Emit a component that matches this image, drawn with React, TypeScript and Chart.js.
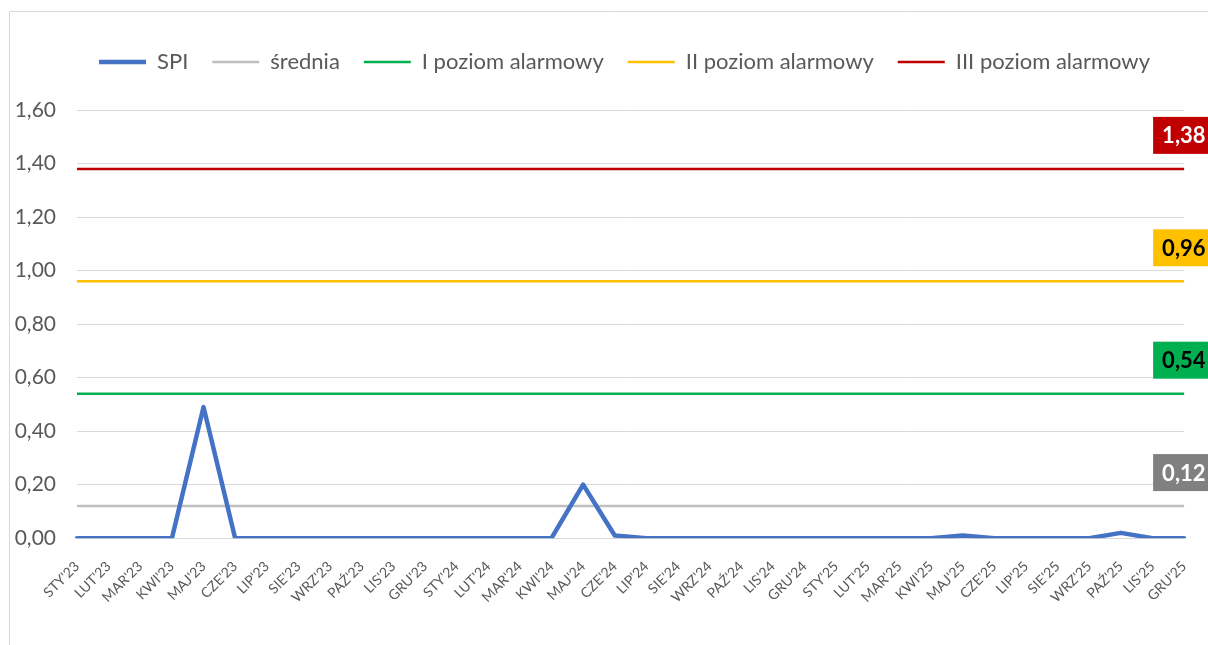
import { useEffect, useRef } from "react";
import { Chart, registerables } from "chart.js";

Chart.register(...registerables);

const categories = [
  "STY'23", "LUT'23", "MAR'23", "KWI'23", "MAJ'23", "CZE'23", "LIP'23", "SIE'23", "WRZ'23", "PAŹ'23", "LIS'23", "GRU'23",
  "STY'24", "LUT'24", "MAR'24", "KWI'24", "MAJ'24", "CZE'24", "LIP'24", "SIE'24", "WRZ'24", "PAŹ'24", "LIS'24", "GRU'24",
  "STY'25", "LUT'25", "MAR'25", "KWI'25", "MAJ'25", "CZE'25", "LIP'25", "SIE'25", "WRZ'25", "PAŹ'25", "LIS'25", "GRU'25",
];

const spiValues = [
  0, 0, 0, 0, 0.49, 0, 0, 0, 0, 0, 0, 0,
  0, 0, 0, 0, 0.2, 0.01, 0, 0, 0, 0, 0, 0,
  0, 0, 0, 0, 0.01, 0, 0, 0, 0, 0.02, 0, 0,
];

const sredniaValue = 0.12;
const level1Value = 0.54;
const level2Value = 0.96;
const level3Value = 1.38;

const seriesNames = ["SPI", "średnia", "I poziom alarmowy", "II poziom alarmowy", "III poziom alarmowy"];
const yTicks = [0, 0.2, 0.4, 0.6, 0.8, 1.0, 1.2, 1.4, 1.6];

const FONT = "Lato";
const TEXT = "#595959";

const fmt = (v: number) => v.toFixed(2).replace(".", ",");

const badges = [
  { value: sredniaValue, bg: "#808080", fg: "#ffffff" },
  { value: level1Value, bg: "#00B050", fg: "#000000" },
  { value: level2Value, bg: "#FFC000", fg: "#000000" },
  { value: level3Value, bg: "#C00000", fg: "#ffffff" },
];

const framePlugin = {
  id: "frame",
  beforeInit(chart: any) {
    const legend = chart.legend;
    if (legend) {
      const orig = legend.fit.bind(legend);
      legend.fit = function () {
        orig();
        this.height = 83;
      };
    }
  },
  afterLayout(chart: any) {
    const legend = chart.legend;
    if (legend) {
      legend.left += 31;
      legend.right += 31;
    }
  },
  beforeDraw(chart: any) {
    const { ctx, width, height } = chart;
    ctx.save();
    ctx.fillStyle = "#ffffff";
    ctx.fillRect(0, 0, width, height);
    ctx.strokeStyle = "#d9d9d9";
    ctx.lineWidth = 1;
    ctx.beginPath();
    ctx.moveTo(9.5, height);
    ctx.lineTo(9.5, 11.5);
    ctx.lineTo(width, 11.5);
    ctx.stroke();
    ctx.restore();
  },
};

const badgePlugin = {
  id: "badges",
  afterDatasetsDraw(chart: any) {
    const { ctx, chartArea } = chart;
    const y = chart.scales.y;
    badges.forEach((b) => {
      const py = y.getPixelForValue(b.value);
      const text = fmt(b.value);
      ctx.save();
      ctx.font = `bold 22px ${FONT}`;
      const w = ctx.measureText(text).width + 30;
      const h = 37;
      const x = chartArea.right - 31;
      const top = py - 15 - h;
      ctx.fillStyle = b.bg;
      ctx.fillRect(x, top, w, h);
      ctx.fillStyle = b.fg;
      ctx.textBaseline = "middle";
      ctx.textAlign = "left";
      ctx.fillText(text, x + 9, top + h / 2 + 1);
      ctx.restore();
    });
  },
};

export default function App() {
  const ref = useRef<HTMLCanvasElement | null>(null);

  useEffect(() => {
    if (!ref.current) return;
    const constLine = (v: number) => categories.map(() => v);
    const common = { pointRadius: 0, pointHoverRadius: 0, tension: 0, fill: false };
    const chart = new Chart(ref.current, {
      type: "line",
      data: {
        labels: categories,
        datasets: [
          { ...common, label: seriesNames[0], data: spiValues, borderColor: "#4472C4", backgroundColor: "#4472C4", borderWidth: 4.5, borderJoinStyle: "round", borderCapStyle: "round" },
          { ...common, label: seriesNames[1], data: constLine(sredniaValue), borderColor: "#BFBFBF", backgroundColor: "#BFBFBF", borderWidth: 2.5 },
          { ...common, label: seriesNames[2], data: constLine(level1Value), borderColor: "#00B050", backgroundColor: "#00B050", borderWidth: 2.5 },
          { ...common, label: seriesNames[3], data: constLine(level2Value), borderColor: "#FFC000", backgroundColor: "#FFC000", borderWidth: 2.5 },
          { ...common, label: seriesNames[4], data: constLine(level3Value), borderColor: "#C00000", backgroundColor: "#C00000", borderWidth: 2.5 },
        ] as any,
      },
      options: {
        animation: false,
        responsive: true,
        maintainAspectRatio: false,
        layout: { padding: { top: 27, right: 21, left: 0, bottom: 27 } },
        plugins: {
          tooltip: { enabled: false },
          legend: {
            position: "top",
            labels: {
              usePointStyle: true,
              pointStyle: "line",
              pointStyleWidth: 47,
              padding: 24,
              color: TEXT,
              font: { family: FONT, size: 22 },
            },
          },
        },
        scales: {
          x: {
            offset: false,
            grid: { display: false },
            border: { display: false },
            ticks: {
              color: TEXT,
              font: { family: FONT, size: 14 },
              maxRotation: 45,
              minRotation: 45,
              autoSkip: false,
              padding: 12,
            },
          },
          y: {
            min: yTicks[0],
            max: yTicks[yTicks.length - 1],
            afterFit: (scale: any) => {
              scale.width = 77;
            },
            afterBuildTicks: (scale: any) => {
              scale.ticks = yTicks.map((v) => ({ value: v }));
            },
            grid: { color: "#d9d9d9", lineWidth: 1, drawTicks: false },
            border: { display: false },
            ticks: {
              color: TEXT,
              font: { family: FONT, size: 21 },
              padding: 21,
              callback: (v: any) => fmt(Number(v)),
            },
          },
        },
      },
      plugins: [framePlugin, badgePlugin],
    });
    return () => chart.destroy();
  }, []);

  return (
    <div style={{ position: "fixed", left: 0, top: 0, width: 1208, height: 645 }}>
      <canvas ref={ref} />
    </div>
  );
}
